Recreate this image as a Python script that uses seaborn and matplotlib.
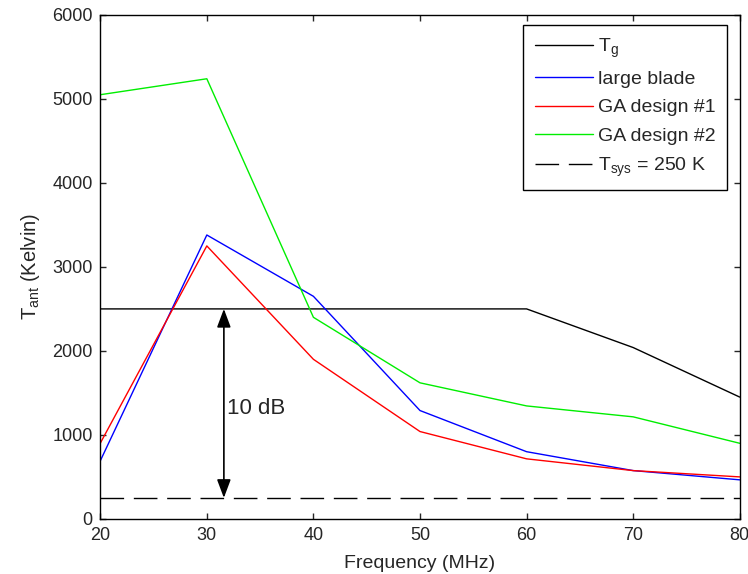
import numpy as np
import pandas as pd
import seaborn as sns
import matplotlib
matplotlib.use("Agg")
import matplotlib.pyplot as plt

freq = [20, 30, 40, 50, 60, 70, 80]
t_g = [2500, 2500, 2500, 2500, 2500, 2040, 1450]
large_blade = [690, 3380, 2650, 1290, 800, 575, 465]
ga_design_1 = [900, 3250, 1900, 1040, 715, 575, 500]
ga_design_2 = [5050, 5240, 2400, 1620, 1345, 1215, 900]
t_sys = 250

sns.set_style("ticks")
plt.rcParams['font.family'] = ['Liberation Sans', 'DejaVu Sans']
plt.rcParams['xtick.direction'] = 'in'
plt.rcParams['ytick.direction'] = 'in'
plt.rcParams['axes.linewidth'] = 1.0

df = pd.DataFrame({"freq": freq, "Tg": t_g, "large": large_blade,
                   "ga1": ga_design_1, "ga2": ga_design_2})

fig = plt.figure(figsize=(7.48, 5.74), dpi=100)
ax = fig.add_axes([0.134, 0.096, 0.855, 0.878])

sns.lineplot(data=df, x="freq", y="Tg", color="black", lw=1, ax=ax, label="$\\mathregular{T_g}$")
sns.lineplot(data=df, x="freq", y="large", color="blue", lw=1, ax=ax, label="large blade")
sns.lineplot(data=df, x="freq", y="ga1", color="red", lw=1, ax=ax, label="GA design #1")
sns.lineplot(data=df, x="freq", y="ga2", color="#00ee00", lw=1, ax=ax, label="GA design #2")
ax.plot([freq[0], freq[-1]], [t_sys, t_sys], color="black", lw=1, dashes=(17, 7),
        label="$\\mathregular{T_{sys}}$ = 250 K")

# 10 dB arrow between Tsys and Tg
ax.annotate("", xy=(31.6, t_sys), xytext=(31.6, 2500),
            arrowprops=dict(arrowstyle="<|-|>,head_length=0.8,head_width=0.3",
                            color="black", lw=1.2,
                            mutation_scale=14, shrinkA=0, shrinkB=0))
ax.text(31.9, 1320, "10 dB", fontsize=16, va="center", ha="left")

ax.set_xlim(20, 80)
ax.set_ylim(0, 6000)
ax.set_xticks(freq)
ax.set_yticks(np.arange(0, 6001, 1000))
ax.tick_params(labelsize=13, top=True, right=True, length=4, width=1)
ax.tick_params(axis="x", pad=6)
ax.tick_params(axis="y", pad=5.5)
ax.set_xlabel("Frequency (MHz)", fontsize=14, labelpad=8)
ax.set_ylabel("$\\mathregular{T_{ant}}$ (Kelvin)", fontsize=14.5, labelpad=7)
for s in ax.spines.values():
    s.set_color("black")

leg = ax.legend(loc="upper right", bbox_to_anchor=(727 / 748, 1 - 25 / 574),
                bbox_transform=fig.transFigure, borderaxespad=0,
                fontsize=14, frameon=True, fancybox=False,
                edgecolor="black", framealpha=1, handlelength=3.0,
                handletextpad=0.25, borderpad=0.6, labelspacing=0.55)
leg.get_frame().set_linewidth(1)

fig.savefig("out.png", dpi=100)
